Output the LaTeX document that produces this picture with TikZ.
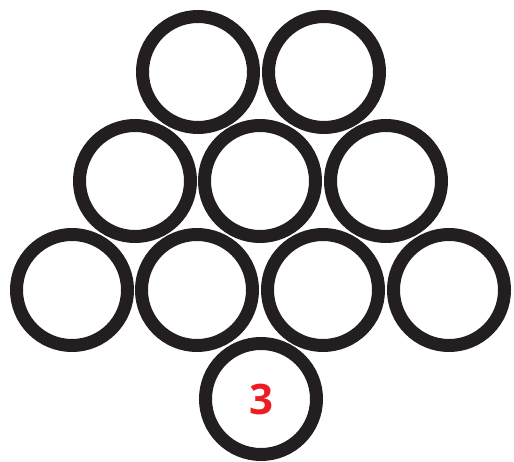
\documentclass[tikz,border=0pt]{standalone}
\usepackage{fontspec}
\setsansfont{Open Sans}
\usepackage{xcolor}
\usetikzlibrary{positioning}
\definecolor{ringblack}{HTML}{231F20}
\definecolor{numred}{HTML}{ED1C24}
\tikzset{
  ring/.style={circle,draw=ringblack,line width=13pt,minimum size=111pt,inner sep=0pt},
  numlabel/.style={text=numred,font=\sffamily\bfseries\fontsize{42}{42}\selectfont}
}
\begin{document}
\begin{tikzpicture}[x=1pt,y=-1pt]
\useasboundingbox (0,0) rectangle (514,462);
\node[ring] (a1) at (198,72) {};
\node[ring] (a2) at (324,72) {};
\node[ring] (b1) at (135,181) {};
\node[ring] (b2) at (260,181) {};
\node[ring] (b3) at (386,181) {};
\node[ring] (c1) at (72,290) {};
\node[ring] (c2) at (197,290) {};
\node[ring] (c3) at (323,290) {};
\node[ring] (c4) at (449,290) {};
\node[ring,numlabel] (d1) at (261,399) {3};
\end{tikzpicture}
\end{document}
